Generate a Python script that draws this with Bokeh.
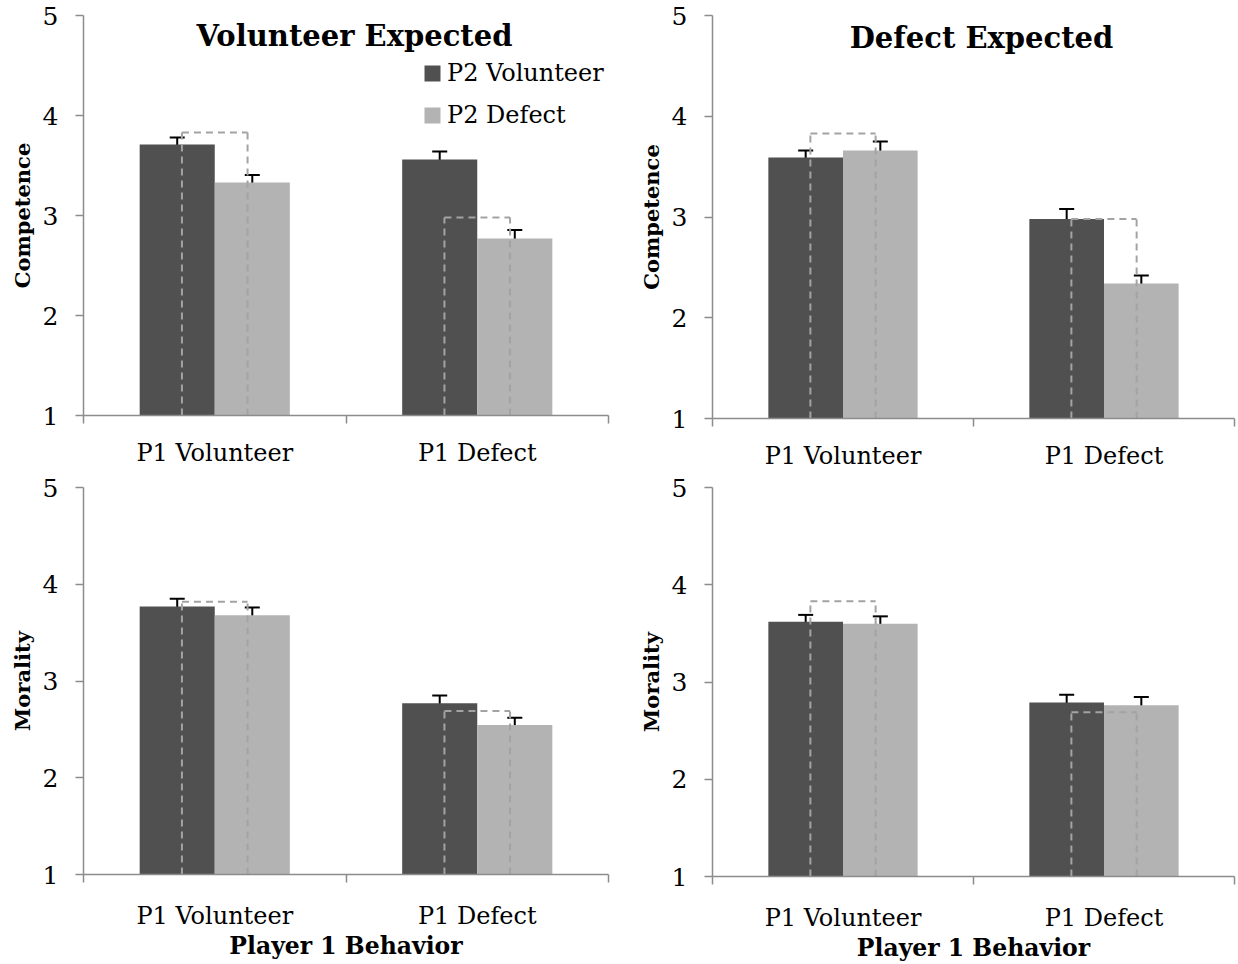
from bokeh.plotting import figure
from bokeh.models import (ColumnDataSource, Range1d, LinearAxis, FixedTicker,
                          Whisker, TeeHead, Label, Legend, LegendItem)
from bokeh.transform import dodge
from bokeh.layouts import row, column
from bokeh.embed import file_html
from bokeh.resources import INLINE

# ---------------- data ----------------
cats = ["P1 Volunteer", "P1 Defect"]
series_names = ["P2 Volunteer", "P2 Defect"]
y_ticks = [1, 2, 3, 4, 5]
y_min, y_max = 1, 5

# Competence - Volunteer Expected
comp_volexp_p2vol = [3.71, 3.56]
comp_volexp_p2def = [3.33, 2.77]
comp_volexp_p2vol_se = [0.07, 0.08]
comp_volexp_p2def_se = [0.075, 0.085]
comp_volexp_bracket = [3.83, 2.98]

# Competence - Defect Expected
comp_defexp_p2vol = [3.59, 2.98]
comp_defexp_p2def = [3.66, 2.34]
comp_defexp_p2vol_se = [0.07, 0.10]
comp_defexp_p2def_se = [0.09, 0.08]
comp_defexp_bracket = [3.83, 2.98]

# Morality - Volunteer Expected
mor_volexp_p2vol = [3.77, 2.77]
mor_volexp_p2def = [3.68, 2.545]
mor_volexp_p2vol_se = [0.08, 0.08]
mor_volexp_p2def_se = [0.08, 0.075]
mor_volexp_bracket = [3.82, 2.69]

# Morality - Defect Expected
mor_defexp_p2vol = [3.62, 2.79]
mor_defexp_p2def = [3.60, 2.76]
mor_defexp_p2vol_se = [0.07, 0.08]
mor_defexp_p2def_se = [0.075, 0.085]
mor_defexp_bracket = [3.83, 2.69]

# ---------------- style ----------------
FONT = "DejaVu Serif"
DARK = "#505050"
LIGHT = "#b3b3b3"
AXIS = "#8c8c8c"
DASH = "#a3a3a3"
BAR_W = 0.286
OFF = BAR_W / 2
DASH_OFF = 0.125


def panel(dark, light, dark_se, light_se, bracket, ylabel, width, height,
          bl, bt, fw, fh, cat_standoff, title=None, title_x=0, title_y=380,
          legend=False, xlabel=None):
    n = len(cats)
    p = figure(width=width, height=height,
               x_range=Range1d(0, n),
               y_range=Range1d(y_min, y_max),
               output_backend="svg", toolbar_location=None,
               x_axis_location=None,
               min_border_left=bl, min_border_top=bt,
               min_border_right=width - bl - fw,
               min_border_bottom=height - bt - fh)
    p.outline_line_color = None
    p.background_fill_color = "white"
    p.border_fill_color = "white"
    p.grid.visible = False

    src = ColumnDataSource(dict(
        pos=[i + 0.5 for i in range(n)], dark=dark, light=light,
        dark_hi=[v + e for v, e in zip(dark, dark_se)],
        dark_lo=[v - e for v, e in zip(dark, dark_se)],
        light_hi=[v + e for v, e in zip(light, light_se)],
        light_lo=[v - e for v, e in zip(light, light_se)],
        bracket=bracket, base=[y_min] * n,
    ))

    r_dark = p.vbar(x=dodge("pos", -OFF), top="dark", bottom="base",
                    width=BAR_W, source=src, fill_color=DARK, line_color=None)
    r_light = p.vbar(x=dodge("pos", OFF), top="light", bottom="base",
                     width=BAR_W, source=src, fill_color=LIGHT, line_color=None)

    # dashed comparison brackets
    xl = dodge("pos", -DASH_OFF)
    xr = dodge("pos", DASH_OFF)
    dash_kw = dict(line_color=DASH, line_width=2, line_dash="7 5", source=src)
    p.segment(x0=xl, y0="base", x1=xl, y1="bracket", **dash_kw)
    p.segment(x0=xr, y0="base", x1=xr, y1="bracket", **dash_kw)
    p.segment(x0=xl, y0="bracket", x1=xr, y1="bracket", **dash_kw)

    for off, hi, lo in [(-OFF, "dark_hi", "dark_lo"), (OFF, "light_hi", "light_lo")]:
        w = Whisker(source=src, base=dodge("pos", off), upper=hi, lower=lo,
                    line_color="black", line_width=2,
                    upper_head=TeeHead(size=15, line_color="black", line_width=2),
                    lower_head=TeeHead(size=15, line_color="black", line_width=2))
        p.add_layout(w)

    # x axis: category labels at centres, ticks at category boundaries
    xa = LinearAxis(ticker=FixedTicker(ticks=[i + 0.5 for i in range(n)],
                                       minor_ticks=list(range(n + 1))),
                    major_label_overrides={i + 0.5: c for i, c in enumerate(cats)})
    xa.axis_line_color = AXIS
    xa.axis_line_width = 1.5
    xa.major_tick_line_color = None
    xa.major_tick_out = 0
    xa.major_tick_in = 0
    xa.minor_tick_line_color = AXIS
    xa.minor_tick_line_width = 1.5
    xa.minor_tick_out = 8
    xa.minor_tick_in = 0
    xa.major_label_standoff = cat_standoff
    xa.major_label_text_font = FONT
    xa.major_label_text_font_size = "24px"
    xa.major_label_text_color = "black"
    if xlabel:
        xa.axis_label = xlabel
        xa.axis_label_text_font = FONT
        xa.axis_label_text_font_style = "bold"
        xa.axis_label_text_font_size = "23.5px"
        xa.axis_label_text_color = "black"
        xa.axis_label_standoff = -1
    p.add_layout(xa, "below")

    ya = p.yaxis[0]
    ya.ticker = FixedTicker(ticks=y_ticks)
    ya.axis_line_color = AXIS
    ya.axis_line_width = 1.5
    ya.major_tick_line_color = AXIS
    ya.major_tick_line_width = 1.5
    ya.major_tick_out = 8
    ya.major_tick_in = 0
    ya.minor_tick_line_color = None
    ya.major_label_standoff = 17
    ya.major_label_text_font = FONT
    ya.major_label_text_font_size = "25px"
    ya.major_label_text_color = "black"
    ya.axis_label = ylabel
    ya.axis_label_text_font = FONT
    ya.axis_label_text_font_style = "bold"
    ya.axis_label_text_font_size = "21px"
    ya.axis_label_text_color = "black"
    ya.axis_label_standoff = 5

    if title:
        p.add_layout(Label(x=title_x, y=title_y, x_units="screen", y_units="screen", text=title,
                           text_align="center", text_baseline="alphabetic",
                           text_font=FONT, text_font_style="bold",
                           text_font_size="29px", text_color="black"))
    if legend:
        lg = Legend(items=[LegendItem(label=series_names[0], renderers=[r_dark]),
                           LegendItem(label=series_names[1], renderers=[r_light])],
                    location=(339, 286), padding=0, margin=0, spacing=14,
                    glyph_width=20, glyph_height=20, label_standoff=5,
                    label_text_font=FONT, label_text_font_size="24px",
                    label_text_color="black",
                    border_line_color=None, background_fill_alpha=0)
        p.add_layout(lg)
    return p


tl = panel(comp_volexp_p2vol, comp_volexp_p2def, comp_volexp_p2vol_se, comp_volexp_p2def_se,
           comp_volexp_bracket, "Competence", 630, 472, 83, 15, 525, 400, 15,
           title="Volunteer Expected", title_x=271, title_y=380, legend=True)
tr = panel(comp_defexp_p2vol, comp_defexp_p2def, comp_defexp_p2vol_se, comp_defexp_p2def_se,
           comp_defexp_bracket, "Competence", 608, 472, 82, 15, 522, 403, 15,
           title="Defect Expected", title_x=269, title_y=381)
bl = panel(mor_volexp_p2vol, mor_volexp_p2def, mor_volexp_p2vol_se, mor_volexp_p2def_se,
           mor_volexp_bracket, "Morality", 630, 492, 83, 15, 525, 387, 19,
           xlabel="Player 1 Behavior")
br = panel(mor_defexp_p2vol, mor_defexp_p2def, mor_defexp_p2vol_se, mor_defexp_p2def_se,
           mor_defexp_bracket, "Morality", 608, 492, 82, 15, 522, 390, 19,
           xlabel="Player 1 Behavior")

layout = row(column(tl, bl), column(tr, br))
open("out.html", "w").write(file_html(layout, INLINE))
